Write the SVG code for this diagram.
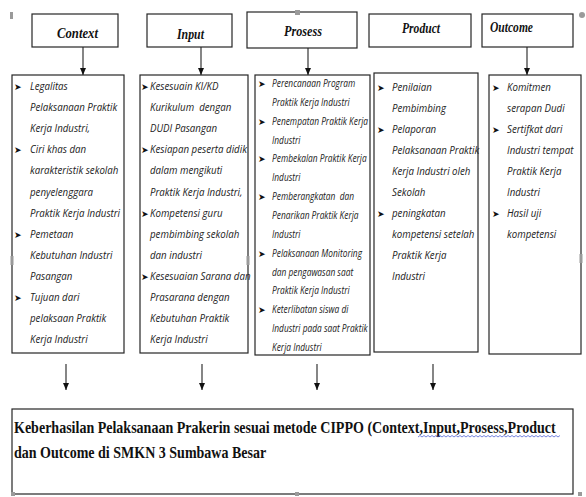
<svg xmlns="http://www.w3.org/2000/svg" width="586" height="497" viewBox="0 0 586 497">
<defs>
<style>
.box{fill:#fff;stroke:#262626;stroke-width:1.2}
.hd{font-family:"Liberation Serif",serif;font-style:italic;font-weight:bold;font-size:15px;fill:#111}
.ct{font-family:"Open Sans","Noto Sans",sans-serif;font-style:italic;font-size:11.3px;fill:#222}
.ps{font-family:"Open Sans","Noto Sans",sans-serif;font-style:italic;font-size:10.2px;fill:#222}
.bl{font-family:"DejaVu Sans",sans-serif;font-size:9px;fill:#111}
.bt{font-family:"Liberation Serif",serif;font-weight:bold;font-size:16.5px;fill:#111}
.cn{stroke:#222;stroke-width:1.1;fill:none;marker-end:url(#ah)}
.hn{fill:#9a9a9a}
</style>
<marker id="ah" markerUnits="userSpaceOnUse" markerWidth="7" markerHeight="6" refX="7" refY="3" orient="auto">
<path d="M0,0 L7,3 L0,6 z" fill="#111"/>
</marker>
</defs>
<rect width="586" height="497" fill="#fff"/>

<g id="connectors">
<path class="cn" d="M83,47 V75"/>
<path class="cn" d="M201,47 V75"/>
<path class="cn" d="M308,48 V75"/>
<path class="cn" d="M527,47 V75"/>
<path class="cn" d="M66,364 V390"/>
<path class="cn" d="M202,364 V390"/>
<path class="cn" d="M317,364 V390"/>
<path class="cn" d="M433,364 V390"/>
</g>

<g id="h-context"><rect class="box" x="32" y="14" width="86" height="33"/><text class="hd" x="57" y="38" textLength="41" lengthAdjust="spacingAndGlyphs">Context</text></g>
<g id="h-input"><rect class="box" x="147" y="14" width="85" height="33"/><text class="hd" x="177" y="39" textLength="27" lengthAdjust="spacingAndGlyphs">Input</text></g>
<g id="h-prosess"><rect class="box" x="247" y="12" width="110" height="36"/><text class="hd" x="284" y="36" textLength="38" lengthAdjust="spacingAndGlyphs">Prosess</text></g>
<g id="h-product"><rect class="box" x="369" y="14" width="102" height="33"/><text class="hd" x="402" y="33" textLength="38" lengthAdjust="spacingAndGlyphs">Product</text></g>
<g id="h-outcome"><rect class="box" x="482" y="14" width="91" height="33"/><text class="hd" x="490" y="32" textLength="43" lengthAdjust="spacingAndGlyphs">Outcome</text></g>

<g id="c-context">
<rect class="box" x="12" y="75" width="112" height="278"/>
<text class="bl" x="14" y="90">➤</text><text class="bl" x="14" y="153">➤</text><text class="bl" x="14" y="238">➤</text><text class="bl" x="14" y="301">➤</text>
<g transform="translate(30 0) scale(0.86 1)">
<text class="ct" x="0" y="90">Legalitas</text>
<text class="ct" x="0" y="111">Pelaksanaan Praktik</text>
<text class="ct" x="0" y="132">Kerja Industri,</text>
<text class="ct" x="0" y="153">Ciri khas dan</text>
<text class="ct" x="0" y="174">karakteristik sekolah</text>
<text class="ct" x="0" y="196">penyelenggara</text>
<text class="ct" x="0" y="217">Praktik Kerja Industri</text>
<text class="ct" x="0" y="238">Pemetaan</text>
<text class="ct" x="0" y="259">Kebutuhan Industri</text>
<text class="ct" x="0" y="280">Pasangan</text>
<text class="ct" x="0" y="301">Tujuan dari</text>
<text class="ct" x="0" y="322">pelaksaan Praktik</text>
<text class="ct" x="0" y="343">Kerja Industri</text>
</g>
</g>

<g id="c-input">
<rect class="box" x="140" y="75" width="108" height="278"/>
<text class="bl" x="141" y="90">➤</text><text class="bl" x="141" y="153">➤</text><text class="bl" x="141" y="217">➤</text><text class="bl" x="141" y="280">➤</text>
<g transform="translate(150 0) scale(0.86 1)">
<text class="ct" x="0" y="90">Kesesuain KI/KD</text>
<text class="ct" x="0" y="111" xml:space="preserve">Kurikulum  dengan</text>
<text class="ct" x="0" y="132">DUDI Pasangan</text>
<text class="ct" x="0" y="153">Kesiapan peserta didik</text>
<text class="ct" x="0" y="174">dalam mengikuti</text>
<text class="ct" x="0" y="196">Praktik Kerja Industri,</text>
<text class="ct" x="0" y="217">Kompetensi guru</text>
<text class="ct" x="0" y="238">pembimbing sekolah</text>
<text class="ct" x="0" y="259">dan industri</text>
<text class="ct" x="0" y="280">Kesesuaian Sarana dan</text>
<text class="ct" x="0" y="301">Prasarana dengan</text>
<text class="ct" x="0" y="322">Kebutuhan Praktik</text>
<text class="ct" x="0" y="343">Kerja Industri</text>
</g>
</g>

<g id="c-prosess">
<rect class="box" x="255" y="75" width="115" height="280"/>
<text class="bl" x="258" y="87">➤</text><text class="bl" x="258" y="125">➤</text><text class="bl" x="258" y="162">➤</text><text class="bl" x="258" y="200">➤</text><text class="bl" x="258" y="257">➤</text><text class="bl" x="258" y="313">➤</text>
<g transform="translate(272 0) scale(0.82 1)">
<text class="ps" x="0" y="87">Perencanaan Program</text>
<text class="ps" x="0" y="106">Praktik Kerja Industri</text>
<text class="ps" x="0" y="125">Penempatan Praktik Kerja</text>
<text class="ps" x="0" y="144">Industri</text>
<text class="ps" x="0" y="162">Pembekalan Praktik Kerja</text>
<text class="ps" x="0" y="181">Industri</text>
<text class="ps" x="0" y="200" xml:space="preserve">Pemberangkatan  dan</text>
<text class="ps" x="0" y="219">Penarikan Praktik Kerja</text>
<text class="ps" x="0" y="238">Industri</text>
<text class="ps" x="0" y="257">Pelaksanaan Monitoring</text>
<text class="ps" x="0" y="276">dan pengawasan saat</text>
<text class="ps" x="0" y="294">Praktik Kerja Industri</text>
<text class="ps" x="0" y="313">Keterlibatan siswa di</text>
<text class="ps" x="0" y="332">Industri pada saat Praktik</text>
<text class="ps" x="0" y="351">Kerja Industri</text>
</g>
</g>

<g id="c-product">
<rect class="box" x="374" y="73" width="104" height="279"/>
<text class="bl" x="377" y="91">➤</text><text class="bl" x="377" y="133">➤</text><text class="bl" x="377" y="217">➤</text>
<g transform="translate(392 0) scale(0.86 1)">
<text class="ct" x="0" y="91">Penilaian</text>
<text class="ct" x="0" y="112">Pembimbing</text>
<text class="ct" x="0" y="133">Pelaporan</text>
<text class="ct" x="0" y="154">Pelaksanaan Praktik</text>
<text class="ct" x="0" y="175">Kerja Industri oleh</text>
<text class="ct" x="0" y="196">Sekolah</text>
<text class="ct" x="0" y="217">peningkatan</text>
<text class="ct" x="0" y="238">kompetensi setelah</text>
<text class="ct" x="0" y="259">Praktik Kerja</text>
<text class="ct" x="0" y="280">Industri</text>
</g>
</g>

<g id="c-outcome">
<rect class="box" x="489" y="75" width="92" height="279"/>
<text class="bl" x="492" y="91">➤</text><text class="bl" x="492" y="133">➤</text><text class="bl" x="492" y="217">➤</text>
<g transform="translate(507 0) scale(0.86 1)">
<text class="ct" x="0" y="91">Komitmen</text>
<text class="ct" x="0" y="112">serapan Dudi</text>
<text class="ct" x="0" y="133">Sertifkat dari</text>
<text class="ct" x="0" y="154">Industri tempat</text>
<text class="ct" x="0" y="175">Praktik Kerja</text>
<text class="ct" x="0" y="196">Industri</text>
<text class="ct" x="0" y="217">Hasil uji</text>
<text class="ct" x="0" y="238">kompetensi</text>
</g>
</g>

<g id="result">
<rect class="box" x="12" y="409" width="561" height="85"/>
<g transform="translate(14 0) scale(0.85 1)">
<text class="bt" x="0" y="433">Keberhasilan Pelaksanaan Prakerin sesuai metode CIPPO (Context,Input,Prosess,Product</text>
<text class="bt" x="0" y="458">dan Outcome di SMKN 3 Sumbawa Besar</text>
</g>
<path d="M418,437 l2,-1.5 l2,1.5 l2,-1.5 l2,1.5 l2,-1.5 l2,1.5 l2,-1.5 l2,1.5 l2,-1.5 l2,1.5 l2,-1.5 l2,1.5 l2,-1.5 l2,1.5 l2,-1.5 l2,1.5 l2,-1.5 l2,1.5 l2,-1.5 l2,1.5 l2,-1.5 l2,1.5 l2,-1.5 l2,1.5 l2,-1.5 l2,1.5 l2,-1.5 l2,1.5 l2,-1.5 l2,1.5 l2,-1.5 l2,1.5 l2,-1.5 l2,1.5 l2,-1.5 l2,1.5 l2,-1.5 l2,1.5 l2,-1.5 l2,1.5 l2,-1.5 l2,1.5 l2,-1.5 l2,1.5 l2,-1.5 l2,1.5 l2,-1.5 l2,1.5 l2,-1.5 l2,1.5 l2,-1.5 l2,1.5 l2,-1.5 l2,1.5 l2,-1.5 l2,1.5 l2,-1.5 l2,1.5 l2,-1.5 l2,1.5 l2,-1.5 l2,1.5 l2,-1.5 l2,1.5 l2,-1.5 l2,1.5 l2,-1.5 l2,1.5 l2,-1.5 l2,1.5 l2,-1.5" fill="none" stroke="#3a4fd0" stroke-width="0.7"/>
</g>

<g id="handles">
<rect class="hn" x="10" y="12" width="3" height="7"/>
<rect class="hn" x="295" y="10" width="5" height="5"/>
<circle class="hn" cx="582" cy="15" r="3"/>
<rect class="hn" x="10.5" y="256" width="3" height="9"/>
<rect class="hn" x="246.5" y="256" width="3" height="9"/>
<rect class="hn" x="579.5" y="254" width="3" height="9"/>
<rect class="hn" x="11" y="492" width="4" height="4"/>
<rect class="hn" x="295" y="492" width="4" height="4"/>
<rect class="hn" x="578" y="492" width="4" height="4"/>
</g>
</svg>
